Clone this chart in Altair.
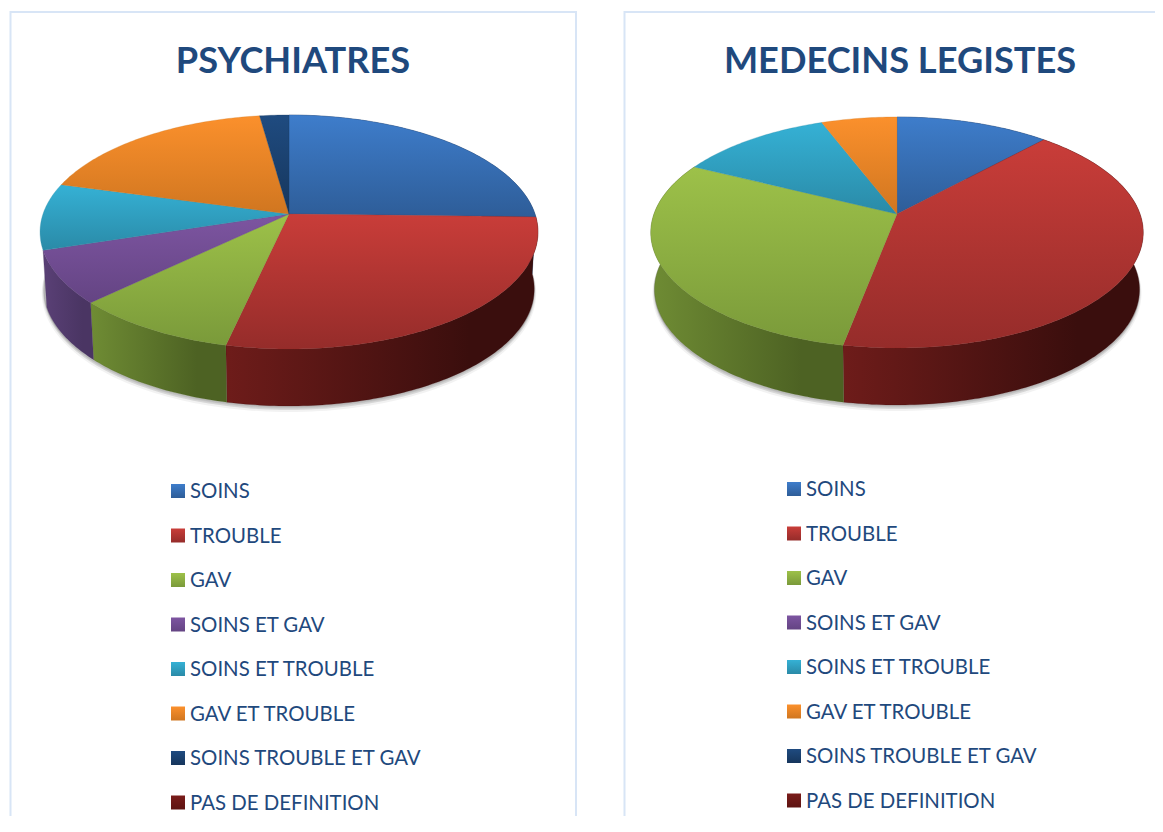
import math
import altair as alt
import pandas as pd

categories = ["SOINS", "TROUBLE", "GAV", "SOINS ET GAV", "SOINS ET TROUBLE",
              "GAV ET TROUBLE", "SOINS TROUBLE ET GAV", "PAS DE DEFINITION"]
psychiatres = [25.4, 28.1, 9.3, 7.3, 9.2, 18.5, 2.2, 0]
legistes = [11.8, 41.2, 29.4, 0, 11.8, 5.8, 0, 0]

top_colors = ["#3e7dcb", "#c93d39", "#9dc149", "#7d55a1", "#35b1d5", "#fb902c", "#1f4b80", "#7a1c1a"]
low_colors = ["#2e5d98", "#952c2a", "#7a9a3a", "#644483", "#2a8aa7", "#d07620", "#16365c", "#5e1412"]
wall_start = ["#2b5486", "#6e1c1a", "#6f8c34", "#5a4076", "#267a93", "#b0641c", "#122c4c", "#4a100e"]
wall_dark = ["#1c3a5e", "#3a0e0d", "#4d6223", "#4a3563", "#1c5c70", "#8a4e16", "#0c2038", "#300a09"]
INK = "#1f497d"
BORDER = "#d8e5f6"

PAGE_L, PAGE_T = 8, 8
W, H = 1147, 808
DEPTH = 57
SHRINK = 0.985
ROW_STEP = 44.5

X = alt.X("x:Q", scale=alt.Scale(domain=[PAGE_L, PAGE_L + W], nice=False, zero=False), axis=None)
Y = alt.Y("y:Q", scale=alt.Scale(domain=[PAGE_T + H, PAGE_T], nice=False, zero=False), axis=None)


def project(theta, a, far, near):
    k = (near - far) / (near + far)
    b = far * (1 + k)
    u, v = math.sin(theta), math.cos(theta)
    d = 1 + k * v
    return a * u / d, b * v / d


def vgrad(c0, c1):
    return dict(gradient="linear", x1=0, y1=0, x2=0, y2=1,
                stops=[dict(offset=0, color=c0), dict(offset=1, color=c1)])


def poly(points, mark):
    df = pd.DataFrame(points, columns=["x", "y"]).reset_index(names="i")
    return alt.Chart(df).mark_line(**mark).encode(x=X, y=Y, order="i:Q")


def panel(values, title, title_x, frame_l, frame_r, cx, cy, a, far, near, sw_x, legend_y):
    total = sum(values)
    layers = []
    page = lambda px, py: (cx + px, cy - py)

    frame = [(frame_l, PAGE_T + H), (frame_l, 12)]
    frame += [(frame_r, 12)] + ([(frame_r, PAGE_T + H)] if frame_r < PAGE_L + W else [])
    layers.append(poly(frame, dict(stroke=BORDER, strokeWidth=2, strokeCap="butt", strokeJoin="miter")))

    ring = [project(2 * math.pi * i / 240, a, far, near) for i in range(241)]
    for grow, op in ((4.0, 0.10), (2.5, 0.16), (1.2, 0.22)):
        pts = [page(px * SHRINK, py - DEPTH - grow) for px, py in ring]
        layers.append(poly(pts, dict(fill="#808080", fillOpacity=op, stroke="#808080",
                                     strokeOpacity=op, strokeWidth=grow)))

    walls, tops = [], []
    start = 0.0
    for idx, v in enumerate(values):
        if v == 0:
            continue
        end = start + v / total * 2 * math.pi
        n = max(2, int((end - start) * 60))
        arc = [project(start + (end - start) * i / n, a, far, near) for i in range(n + 1)]
        low = [(px * SHRINK, py - DEPTH) for px, py in reversed(arc)]
        if start < 1.38 * math.pi:
            walls.append(poly([page(*p) for p in arc + low], dict(
                fill=dict(gradient="linear", x1=0, y1=0, x2=1, y2=0,
                          stops=[dict(offset=0, color=wall_start[idx]),
                                 dict(offset=0.78, color=wall_dark[idx]),
                                 dict(offset=1, color=wall_dark[idx])]),
                stroke=wall_dark[idx], strokeWidth=0.3)))
        tops.append(poly([page(*p) for p in [(0, 0)] + arc + [(0, 0)]], dict(
            fill=vgrad(top_colors[idx], low_colors[idx]),
            stroke=low_colors[idx], strokeWidth=0.3)))
        start = end
    layers += walls + tops

    rows = [legend_y + i * ROW_STEP for i in range(len(categories))]
    for i, name in enumerate(categories):
        df = pd.DataFrame({"x": [sw_x], "y": [rows[i]], "categorie": [name], "valeur": [values[i]]})
        layers.append(alt.Chart(df).mark_square(
            size=196, opacity=1, fill=vgrad(top_colors[i], low_colors[i]), strokeWidth=0
        ).encode(x=X, y=Y))
    labels = pd.DataFrame({"x": [sw_x + 12] * len(categories), "y": [r + 1 for r in rows], "categorie": categories})
    layers.append(alt.Chart(labels).mark_text(
        font="Lato", fontSize=20.4, color=INK, align="left", baseline="middle"
    ).encode(x=X, y=Y, text="categorie:N"))

    title_df = pd.DataFrame({"x": [title_x], "y": [62], "t": [title]})
    layers.append(alt.Chart(title_df).mark_text(
        font="Lato", fontWeight="bold", fontSize=36.2, color=INK, align="center", baseline="middle"
    ).encode(x=X, y=Y, text="t:N"))
    return layers


layers = panel(psychiatres, "PSYCHIATRES", 293, 10.5, 576, 289, 214, 246, 99, 135, 178, 491)
layers += panel(legistes, "MEDECINS LEGISTES", 900, 624.5, PAGE_L + W + 2, 897, 214, 243, 97, 134, 794, 489)

chart = (
    alt.layer(*layers)
    .properties(width=W, height=H, padding=0, autosize=alt.AutoSizeParams(type="none"))
    .configure_view(stroke=None, fill="white")
)
chart.save("out.html", embed_options={"renderer": "svg", "actions": False})
